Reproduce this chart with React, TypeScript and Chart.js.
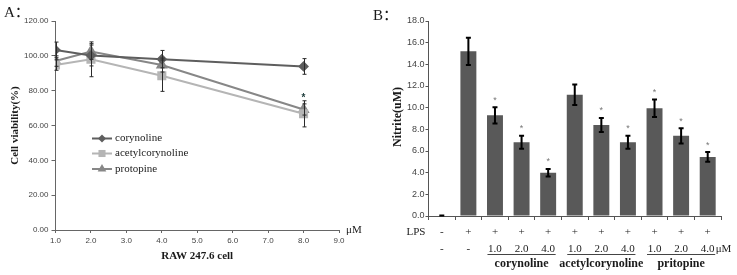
import React, { useEffect, useRef } from "react";
import { Chart, registerables } from "chart.js";

Chart.register(...registerables);

// ---------- Panel A data ----------
const concentrations = [1, 2, 4, 8];
const corynoline = [103.4, 100.2, 98.1, 93.9];
const corynolineErr = [4.5, 6, 5, 4.5];
const acetylcorynoline = [94.7, 98.0, 88.6, 66.7];
const acetylcorynolineErr = [3, 10, 9, 7.5];
const protopine = [97.0, 102.5, 94.7, 69.2];
const protopineErr = [3, 4.5, 4, 3.2];
const seriesNames = ["corynoline", "acetylcorynoline", "protopine"];

// ---------- Panel B data ----------
const lpsRow = ["-", "+", "+", "+", "+", "+", "+", "+", "+", "+", "+"];
const doseRow = ["-", "-", "1.0", "2.0", "4.0", "1.0", "2.0", "4.0", "1.0", "2.0", "4.0"];
const groupNames = ["corynoline", "acetylcorynoline", "pritopine"];
const groupStart = [2, 5, 8];
const groupEnd = [4, 7, 10];
const nitrite = [0.05, 15.2, 9.3, 6.8, 4.0, 11.2, 8.4, 6.8, 9.95, 7.4, 5.45];
const nitriteErr = [0, 1.25, 0.75, 0.6, 0.35, 0.95, 0.65, 0.6, 0.8, 0.7, 0.45];
const nitriteSig = [false, false, true, true, true, false, true, true, true, true, true];

const SERIF = "'Liberation Serif', 'Times New Roman', 'Noto Sans CJK SC', serif";
const SANS = "'Liberation Sans', Arial, sans-serif";

const colA = ["#5e5e5e", "#b5b5b5", "#878787"];
const styleA = ["rectRot", "rect", "triangle"];
const radiusA = [4, 5, 5];

function drawMarker(ctx: CanvasRenderingContext2D, style: string, x: number, y: number, r: number, color: string) {
  ctx.save();
  ctx.fillStyle = color;
  ctx.beginPath();
  if (style === "rectRot") {
    ctx.moveTo(x, y - r);
    ctx.lineTo(x + r, y);
    ctx.lineTo(x, y + r);
    ctx.lineTo(x - r, y);
  } else if (style === "rect") {
    const s = r * Math.SQRT1_2;
    ctx.rect(x - s, y - s, 2 * s, 2 * s);
  } else {
    ctx.moveTo(x, y - r);
    ctx.lineTo(x + r * 0.866, y + r * 0.5);
    ctx.lineTo(x - r * 0.866, y + r * 0.5);
  }
  ctx.closePath();
  ctx.fill();
  ctx.restore();
}

const panelAPlugin = {
  id: "panelA",
  afterDatasetsDraw(chart: any) {
    const { ctx, scales } = chart;
    const x = scales.x;
    const y = scales.y;
    const vals = [corynoline, acetylcorynoline, protopine];
    const errs = [corynolineErr, acetylcorynolineErr, protopineErr];
    ctx.save();
    ctx.strokeStyle = "#2a2a2a";
    ctx.lineWidth = 1;
    vals.forEach((v, si) => {
      v.forEach((val, i) => {
        const px = Math.round(x.getPixelForValue(concentrations[i])) + 0.5;
        const t = y.getPixelForValue(val + errs[si][i]);
        const b = y.getPixelForValue(val - errs[si][i]);
        ctx.beginPath();
        ctx.moveTo(px, t);
        ctx.lineTo(px, b);
        ctx.moveTo(px - 2, t);
        ctx.lineTo(px + 2, t);
        ctx.moveTo(px - 2, b);
        ctx.lineTo(px + 2, b);
        ctx.stroke();
      });
    });
    // significance mark on protopine at 8 uM
    const last = concentrations.length - 1;
    ctx.fillStyle = "#23403f";
    ctx.font = `bold 10px ${SANS}`;
    ctx.textAlign = "center";
    ctx.textBaseline = "middle";
    ctx.fillText("*", x.getPixelForValue(concentrations[last]), y.getPixelForValue(protopine[last] + protopineErr[last]) - 6);
    ctx.restore();
  },
  afterDraw(chart: any) {
    const { ctx, chartArea } = chart;
    ctx.save();
    ctx.fillStyle = "#1a1a1a";
    ctx.font = `15px ${SERIF}`;
    ctx.textAlign = "left";
    ctx.textBaseline = "middle";
    ctx.fillText("A：", 4, 13);

    // axis titles
    ctx.font = `bold 11px ${SERIF}`;
    ctx.textAlign = "center";
    ctx.fillText("RAW 247.6 cell", (chartArea.left + chartArea.right) / 2, 256);
    ctx.save();
    ctx.translate(15, (chartArea.top + chartArea.bottom) / 2);
    ctx.rotate(-Math.PI / 2);
    ctx.fillText("Cell viability(%)", 0, 0);
    ctx.restore();

    ctx.font = `11px ${SERIF}`;
    ctx.textAlign = "left";
    ctx.fillText("μM", chartArea.right + 7, chartArea.bottom);

    // legend
    const ly = [138.5, 153.5, 169];
    seriesNames.forEach((n, i) => {
      ctx.strokeStyle = colA[i];
      ctx.lineWidth = 2;
      ctx.beginPath();
      ctx.moveTo(92, ly[i]);
      ctx.lineTo(112, ly[i]);
      ctx.stroke();
      drawMarker(ctx, styleA[i], 102, ly[i], radiusA[i], colA[i]);
      ctx.fillStyle = "#222";
      ctx.font = `11px ${SERIF}`;
      ctx.fillText(n, 115, ly[i]);
    });
    ctx.restore();
  },
};

const panelBPlugin = {
  id: "panelB",
  afterDatasetsDraw(chart: any) {
    const { ctx, scales } = chart;
    const x = scales.x;
    const y = scales.y;
    ctx.save();
    ctx.strokeStyle = "#000";
    ctx.lineWidth = 2;
    nitrite.forEach((v, i) => {
      const px = x.getPixelForValue(i);
      const t = y.getPixelForValue(v + nitriteErr[i]);
      const b = y.getPixelForValue(v - nitriteErr[i]);
      ctx.beginPath();
      if (nitriteErr[i] > 0) {
        ctx.moveTo(px, t);
        ctx.lineTo(px, b);
      }
      ctx.moveTo(px - 2.5, t);
      ctx.lineTo(px + 2.5, t);
      ctx.moveTo(px - 2.5, b);
      ctx.lineTo(px + 2.5, b);
      ctx.stroke();
      if (nitriteSig[i]) {
        ctx.fillStyle = "#777";
        ctx.font = `9px ${SANS}`;
        ctx.textAlign = "center";
        ctx.textBaseline = "middle";
        ctx.fillText("*", px, t - 7);
      }
    });
    ctx.restore();
  },
  afterDraw(chart: any) {
    const { ctx, chartArea, scales } = chart;
    const x = scales.x;
    ctx.save();
    ctx.fillStyle = "#1a1a1a";
    ctx.font = `15px ${SERIF}`;
    ctx.textAlign = "left";
    ctx.textBaseline = "middle";
    ctx.fillText("B：", 8, 16);

    ctx.font = `bold 12px ${SERIF}`;
    ctx.textAlign = "center";
    ctx.save();
    ctx.translate(33, 117);
    ctx.rotate(-Math.PI / 2);
    ctx.fillText("Nitrite(uM)", 0, 0);
    ctx.restore();

    ctx.font = `11px ${SERIF}`;
    ctx.fillStyle = "#222";
    ctx.fillText("LPS", 51, 232);
    lpsRow.forEach((s, i) => {
      ctx.fillText(s, x.getPixelForValue(i), 232);
    });
    doseRow.forEach((s, i) => {
      ctx.fillText(s, x.getPixelForValue(i), 249);
    });
    ctx.textAlign = "left";
    ctx.fillText("μM", x.getPixelForValue(doseRow.length - 1) + 8, 249);

    ctx.strokeStyle = "#444";
    ctx.lineWidth = 1;
    groupNames.forEach((n, g) => {
      const a = x.getPixelForValue(groupStart[g]) - 7.5;
      const b = x.getPixelForValue(groupEnd[g]) + 7.5;
      ctx.beginPath();
      ctx.moveTo(a, 254.5);
      ctx.lineTo(b, 254.5);
      ctx.stroke();
      ctx.font = `bold 12px ${SERIF}`;
      ctx.textAlign = "center";
      ctx.fillStyle = "#1a1a1a";
      ctx.fillText(n, (a + b) / 2, 264);
    });
    ctx.restore();
  },
};

export default function App() {
  const aRef = useRef<HTMLCanvasElement | null>(null);
  const bRef = useRef<HTMLCanvasElement | null>(null);

  useEffect(() => {
    const vals = [corynoline, acetylcorynoline, protopine];
    const chartA = new Chart(aRef.current as HTMLCanvasElement, {
      type: "line",
      data: {
        datasets: vals.map((v, si) => ({
          label: seriesNames[si],
          data: concentrations.map((c, i) => ({ x: c, y: v[i] })),
          borderColor: colA[si],
          backgroundColor: colA[si],
          pointBackgroundColor: colA[si],
          pointBorderColor: colA[si],
          pointStyle: styleA[si] as any,
          pointRadius: radiusA[si],
          borderWidth: 2,
          tension: 0,
          fill: false,
        })),
      },
      options: {
        animation: false,
        responsive: false,
        layout: { padding: { left: 0, right: 26, top: 21, bottom: 0 } },
        plugins: { legend: { display: false }, tooltip: { enabled: false } },
        scales: {
          x: {
            type: "linear",
            min: 1,
            max: 9,
            ticks: {
              stepSize: 1,
              autoSkip: false,
              maxRotation: 0,
              padding: 3,
              color: "#444",
              font: { family: SANS, size: 8 },
              callback: (v: any) => Number(v).toFixed(1),
            },
            grid: { drawOnChartArea: false, tickLength: 3, color: "#666" },
            border: { color: "#666" },
            afterFit: (s: any) => {
              s.height = 45;
            },
          },
          y: {
            min: 0,
            max: 120,
            ticks: {
              stepSize: 20,
              padding: 3,
              color: "#444",
              font: { family: SANS, size: 8 },
              callback: (v: any) => Number(v).toFixed(2),
            },
            grid: { drawOnChartArea: false, tickLength: 4, color: "#666" },
            border: { color: "#666" },
            afterFit: (s: any) => {
              s.width = 55.5;
            },
          },
        },
      } as any,
      plugins: [panelAPlugin],
    });

    const chartB = new Chart(bRef.current as HTMLCanvasElement, {
      type: "bar",
      data: {
        labels: lpsRow,
        datasets: [
          {
            data: nitrite,
            backgroundColor: "#595959",
            categoryPercentage: 1,
            barPercentage: 0.6,
          },
        ],
      },
      options: {
        animation: false,
        responsive: false,
        layout: { padding: { left: 0, right: 16, top: 21, bottom: 0 } },
        plugins: { legend: { display: false }, tooltip: { enabled: false } },
        scales: {
          x: {
            ticks: { display: false },
            grid: { drawOnChartArea: false, tickLength: 4, color: "#555", offset: true },
            border: { color: "#555" },
            afterFit: (s: any) => {
              s.height = 59;
            },
          },
          y: {
            min: 0,
            max: 18,
            ticks: {
              stepSize: 2,
              padding: 1,
              color: "#444",
              font: { family: SANS, size: 9 },
              callback: (v: any) => Number(v).toFixed(1),
            },
            grid: { drawOnChartArea: false, tickLength: 3, color: "#555" },
            border: { color: "#555" },
            afterFit: (s: any) => {
              s.width = 63.5;
            },
          },
        },
      } as any,
      plugins: [panelBPlugin],
    });

    return () => {
      chartA.destroy();
      chartB.destroy();
    };
  }, []);

  return (
    <div style={{ position: "absolute", left: 0, top: 0, width: 737, height: 275, background: "#fff" }}>
      <div style={{ position: "absolute", left: 0, top: 0, width: 365, height: 275 }}>
        <canvas ref={aRef} width={365} height={275} style={{ display: "block" }} />
      </div>
      <div style={{ position: "absolute", left: 365, top: 0, width: 372, height: 275 }}>
        <canvas ref={bRef} width={372} height={275} style={{ display: "block" }} />
      </div>
    </div>
  );
}
